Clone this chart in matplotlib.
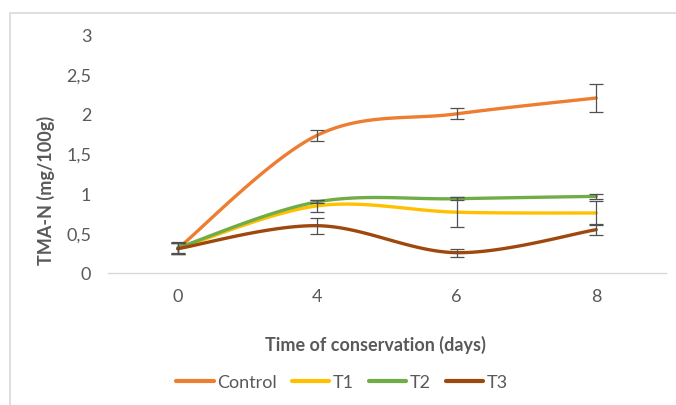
import numpy as np
import matplotlib
matplotlib.use("Agg")
import matplotlib.pyplot as plt
from matplotlib.patches import Rectangle
from matplotlib.ticker import FuncFormatter

plt.rcParams['font.family'] = ['Lato', 'DejaVu Sans']

# Data
days = ["0", "4", "6", "8"]
control = [0.30, 1.73, 2.00, 2.20]
t1 = [0.30, 0.84, 0.76, 0.75]
t2 = [0.31, 0.89, 0.93, 0.96]
t3 = [0.30, 0.59, 0.25, 0.54]
control_err = [0.07, 0.07, 0.07, 0.175]
t1_err = [0.07, 0.08, 0.19, 0.15]
t2_err = [0.07, 0.02, 0.02, 0.03]
t3_err = [0.07, 0.10, 0.05, 0.07]

series = [
    ("Control", control, control_err, "#ED7D31"),
    ("T1", t1, t1_err, "#FFC000"),
    ("T2", t2, t2_err, "#70AD47"),
    ("T3", t3, t3_err, "#9E480E"),
]


def smooth(x, y, n=40):
    # Excel-style smoothed line: cubic Bezier with Catmull-Rom control points
    x = np.asarray(x, float)
    y = np.asarray(y, float)
    pts = np.column_stack([x, y])
    out = []
    for i in range(len(pts) - 1):
        p0 = pts[i - 1] if i > 0 else pts[i]
        p1 = pts[i]
        p2 = pts[i + 1]
        p3 = pts[i + 2] if i + 2 < len(pts) else pts[i + 1]
        c1 = p1 + (p2 - p0) / 6
        c2 = p2 - (p3 - p1) / 6
        t = np.linspace(0, 1, n)[:, None]
        seg = ((1 - t) ** 3) * p1 + 3 * ((1 - t) ** 2) * t * c1 + 3 * (1 - t) * t ** 2 * c2 + t ** 3 * p2
        out.append(seg if i == 0 else seg[1:])
    seg = np.vstack(out)
    return seg[:, 0], seg[:, 1]


fig = plt.figure(figsize=(6.76, 4.06), dpi=100)
ax = fig.add_axes([108 / 676, 132.5 / 406, 558 / 676, 238 / 406])

xpos = np.arange(len(days))
for name, vals, err, col in series:
    sx, sy = smooth(xpos, vals)
    ax.plot(sx, sy, color=col, lw=2.4, label=name, solid_capstyle='round', zorder=2)
for name, vals, err, col in series:
    ax.errorbar(xpos, vals, yerr=err, fmt='none', ecolor='#505050', elinewidth=0.9,
                capsize=5, capthick=0.9, zorder=3)

ax.set_xlim(-0.5, len(days) - 0.5)
ax.set_ylim(0, 3)
ax.set_xticks(xpos)
ax.set_xticklabels(days)
ax.set_yticks(np.arange(0, 3.01, 0.5))
ax.yaxis.set_major_formatter(FuncFormatter(lambda v, p: ('%g' % v).replace('.', ',')))

for s in ['top', 'right', 'left']:
    ax.spines[s].set_visible(False)
ax.spines['bottom'].set_color('#d9d9d9')
ax.spines['bottom'].set_linewidth(1.0)
ax.tick_params(axis='both', length=0, colors='#595959', labelsize=13)
ax.tick_params(axis='x', pad=11)
ax.tick_params(axis='y', pad=12)

ax.set_ylabel("TMA-N (mg/100g)", fontsize=13, fontweight='bold', color='#595959')
ax.yaxis.set_label_coords(-53 / 558, 0.35)
ax.set_xlabel("Time of conservation (days)", fontsize=13, fontweight='bold', color='#595959')
ax.xaxis.set_label_coords((375 - 108) / 558, -(336 - 273.5) / 238)

leg = fig.legend(loc='center', bbox_to_anchor=(342 / 676, 1 - 383 / 406), ncol=4, frameon=False,
                 fontsize=13, handlelength=2.1, handletextpad=0.2, columnspacing=0.8)
for txt in leg.get_texts():
    txt.set_color('#595959')
for h in leg.get_lines():
    h.set_linewidth(3)

fig.patches.append(Rectangle((10 / 676, -0.1), 1.2, 1.1 - 14 / 406, transform=fig.transFigure,
                             fill=False, edgecolor='#d9d9d9', linewidth=1.2))

fig.savefig("out.png", dpi=100)
